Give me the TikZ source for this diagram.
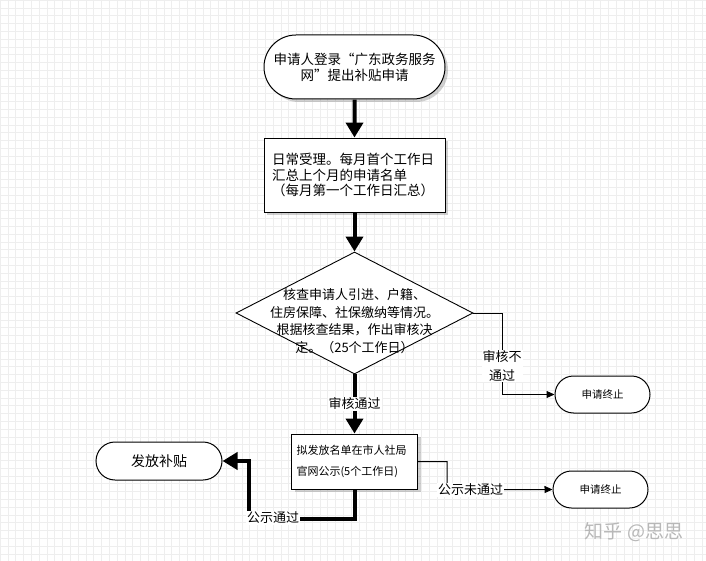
\documentclass[tikz,border=0pt]{standalone}
\usepackage{fontspec}
\setmainfont{Noto Sans CJK SC}
\usetikzlibrary{shapes.misc,shapes.geometric,arrows.meta,shadows}
\definecolor{gridc}{HTML}{EEEEEE}
\begin{document}
\begin{tikzpicture}[x=1pt,y=-1pt,
  every node/.style={inner sep=0pt},
  term/.style={rounded rectangle, draw, line width=1pt, fill=white},
  proc/.style={rectangle, draw, line width=0.9pt, fill=white},
  shad/.style={drop shadow={shadow xshift=3pt, shadow yshift=-3pt, opacity=0.3, fill=black!60}},
  thickflow/.style={line width=4pt, -{Triangle[length=15pt,width=17pt]}},
  thinflow/.style={line width=1pt, -{Triangle[length=8pt,width=7pt]}},
  lab/.style={fill=white, align=center, font=\fontsize{13}{18}\selectfont, inner sep=1pt}
]
\useasboundingbox (0,0) rectangle (706,561);
\fill[white] (0,0) rectangle (706,561);
\draw[gridc, line width=0.5pt, step=7.8pt] (0,561) grid (706,0);

% nodes
\node[term, shad, minimum width=181pt, minimum height=64pt, align=center,
      font=\fontsize{13.5}{16}\selectfont] (start) at (354.5,67)
      {申请人登录“广东政务服务\\网”提出补贴申请};

\node[proc, shad, minimum width=181pt, minimum height=74pt, text width=165pt,
      inner xsep=8pt, align=left, font=\fontsize{13.5}{15.5}\selectfont] (accept) at (354.5,175)
      {日常受理。每月首个工作日\\汇总上个月的申请名单\\（每月第一个工作日汇总）};

\node[diamond, draw, line width=0.9pt, fill=white, minimum width=237pt, minimum height=122pt,
      label={[name=checktext, font=\fontsize{13}{17.5}\selectfont, align=center, yshift=-8pt]center:{核查申请人引进、户籍、\\住房保障、社保缴纳等情况。\\根据核查结果，作出审核决\\定。（25个工作日）}}]
      (check) at (354.5,313) {};

\node[proc, shad, minimum width=126pt, minimum height=55pt, text width=116pt,
      inner xsep=5pt, align=left, font=\fontsize{11}{21}\selectfont] (pub) at (354.5,461.5)
      {拟发放名单在市人社局\\官网公示(5个工作日)};

\node[term, minimum width=95pt, minimum height=37pt, font=\fontsize{10.5}{12}\selectfont]
      (stopa) at (602.5,394.5) {申请终止};
\node[term, minimum width=95pt, minimum height=37pt, font=\fontsize{10.5}{12}\selectfont]
      (stopb) at (600.5,489.5) {申请终止};
\node[term, minimum width=126pt, minimum height=38pt, font=\fontsize{14}{16}\selectfont]
      (grant) at (159,461) {发放补贴};

% connectors
\draw[thickflow] (start) -- (accept);
\draw[thickflow] (accept) -- (check);
\draw[thickflow] (check.south) -- (pub.north);
\node[lab] (passlab1) at (354.5,404) {审核通过};

\draw[thinflow] (check.east) -- (502,313) -- (502,394.5) -- (stopa.west);
\node[lab, font=\fontsize{13}{19}\selectfont] (rejlab) at (502,366) {审核不\\通过};

\draw[thickflow] (pub.south) -- (354.5,519) -- (249,519) -- (249,461) -- (grant.east);
\node[lab] (passlab2) at (273,518) {公示通过};

\draw[thinflow] (pub.east) -- (447,461.5) -- (447,490) -- (stopb.west);
\node[lab] (faillab) at (470.5,490) {公示未通过};

\node[text=black!28, font=\fontsize{19}{20}\selectfont] (wm) at (634,532) {知乎 @思思};
\end{tikzpicture}
\end{document}
